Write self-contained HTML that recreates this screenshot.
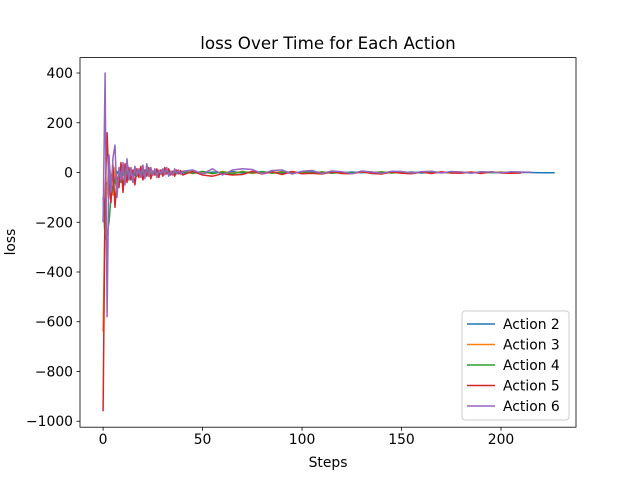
<!DOCTYPE html>
<html><head><meta charset="utf-8"><style>
body{margin:0;background:#fff;width:640px;height:480px;overflow:hidden}
text{font-family:"DejaVu Sans","Liberation Sans",sans-serif;fill:#000}
</style></head><body>
<svg id="chart" width="640" height="480" viewBox="0 0 640 480" xmlns="http://www.w3.org/2000/svg">
<rect x="0" y="0" width="640" height="480" fill="#fff"/>
<text x="328" y="49" text-anchor="middle" font-size="16.7">loss Over Time for Each Action</text>
<g id="plot"></g>
<g id="axes"></g>
<text x="328" y="467" text-anchor="middle" font-size="13.9">Steps</text>
<text x="0" y="0" transform="translate(15,242) rotate(-90)" text-anchor="middle" font-size="13.9">loss</text>
<g id="legend"></g>
</svg>
<script>
const seriesNames = ["Action 2","Action 3","Action 4","Action 5","Action 6"];
const seriesColors = ["#1f77b4","#ff7f0e","#2ca02c","#d62728","#9467bd"];
const xTicks = [0,50,100,150,200];
const yTicks = [-1000,-800,-600,-400,-200,0,200,400];
const stepsEarly = [0,1,2,3,4,5,6,7,8,9,10,11,12,13,14,15,16,17,18,19,20,21,22,23,24,25,26,27,28,29,30,31,32,33,34,35,36,37,38,39,40];
const stepsLate = [45,50,55,60,65,70,75,80,85,90,95,100,105,110,115,120,125,130,135,140,145,150,155,160,165,170,175,180,185,190,195,200,205,210];
const action2Early = [-170,-100,-40,-60,-20,10,-30,5,-15,10,-10,5,-20,10,-5,8,-12,5,-8,10,-5,3,-6,8,-4,5,-6,3,-4,6,-3,2,-5,4,-2,3,-4,2,-3,4,-2];
const action2Late = [3,-4,2,-3,4,-2,3,-3,2,-2,3,-2,2,-3,1,-2,2,-1,2,-2,1,-1,2,-2,1,-1,2,-1,1,-1,1,0,-1,0];
const action2Tail = [[215,0],[220,-1],[227,-1]];
const action3Early = [-640,-150,-80,40,-30,-90,20,-40,10,-20,30,-10,15,-25,10,-5,20,-15,5,-10,15,-5,10,-8,5,-12,8,-5,10,-6,4,-8,6,-4,3,-5,6,-3,4,-2,5];
const action3Late = [-4,3,-5,4,-3,5,-4,3,-2,4,-3,2,-4,3,-2,2,-3,2,-1,3,-2,2,-1,2,-2,1,-1,2,-1,1,-1,2,-1,0];
const action4Early = [-100,-270,-250,-200,-100,-60,-30,-70,-10,-40,10,-20,5,-30,15,-10,5,-15,10,-5,8,-12,6,-4,10,-8,3,-6,5,-3,8,-5,4,-2,6,-4,3,-6,2,-3,4];
const action4Late = [-3,5,-4,2,-5,3,-2,4,-3,2,-4,3,-2,2,-3,1,-2,3,-1,2,-2,1,-2,2,-1,1,-2,1,-1,2,-1,1,-1,0];
const action5Early = [-960,-100,160,-50,-120,30,-140,-20,-60,40,-80,35,-40,20,-30,10,-50,15,-20,25,-30,10,-15,20,-25,5,-10,15,-20,10,-15,20,-5,15,-10,5,-15,10,-5,8,-10];
const action5Late = [5,-10,-15,-5,-10,-8,5,-6,3,-8,4,-5,-3,-6,2,-4,-5,3,-4,-6,2,-3,-5,2,-4,3,-2,-3,2,-4,3,-2,-3,-2];
const action6Early = [-200,400,-580,70,-80,60,110,-100,20,-30,40,-50,55,-30,20,-40,25,-10,15,-20,30,-25,35,-15,20,-10,15,-20,10,-5,15,-10,20,-15,5,-10,15,-5,10,-8,5];
const action6Late = [10,-5,15,-10,10,15,12,-5,8,10,-6,5,8,-4,6,3,-5,6,2,-3,5,4,-2,3,5,-2,4,2,-3,3,2,-1,3,2];
const action6Tail = [[215,1]];

const L=80,R=576,T=57.6,B=427.2;
const xMin=-11.6,xMax=237.7,yMin=-1024,yMax=462;
const xs=v=>L+(v-xMin)/(xMax-xMin)*(R-L);
const ys=v=>B-(v-yMin)/(yMax-yMin)*(B-T);
const NS="http://www.w3.org/2000/svg";
function mk(tag,attrs,parent){const e=document.createElementNS(NS,tag);for(const k in attrs)e.setAttribute(k,attrs[k]);parent.appendChild(e);return e;}
function pts(early,late,tail){
  const p=[];stepsEarly.forEach((s,i)=>p.push([s,early[i]]));stepsLate.forEach((s,i)=>p.push([s,late[i]]));
  (tail||[]).forEach(t=>p.push(t));return p;}
const allSeries=[pts(action2Early,action2Late,action2Tail),pts(action3Early,action3Late),pts(action4Early,action4Late),pts(action5Early,action5Late),pts(action6Early,action6Late,action6Tail)];
const plot=document.getElementById('plot');
const clip=mk('clipPath',{id:'cp'},plot);mk('rect',{x:L,y:T,width:R-L,height:B-T},clip);
allSeries.forEach((p,i)=>{
  const d=p.map((q,j)=>(j?'L':'M')+xs(q[0]).toFixed(1)+','+ys(q[1]).toFixed(1)).join(' ');
  const path=mk('path',{d:d,fill:'none',stroke:seriesColors[i],'stroke-width':1.5,'stroke-linejoin':'round','clip-path':'url(#cp)'},plot);
  
  
});
const axes=document.getElementById('axes');
mk('rect',{x:L,y:T,width:R-L,height:B-T,fill:'none',stroke:'#000','stroke-width':0.8},axes);
xTicks.forEach(v=>{const x=xs(v);
  mk('line',{x1:x,y1:B,x2:x,y2:B+3.5,stroke:'#000','stroke-width':0.8},axes);
  const t=mk('text',{x:x,y:B+17,'text-anchor':'middle','font-size':13.9},axes);t.textContent=v;
  
  });
yTicks.forEach(v=>{const y=ys(v);
  mk('line',{x1:L-3.5,y1:y,x2:L,y2:y,stroke:'#000','stroke-width':0.8},axes);
  const t=mk('text',{x:L-7,y:y+5,'text-anchor':'end','font-size':13.9},axes);t.textContent=(v<0?'\u2212':'')+Math.abs(v);
  
  });
const lg=document.getElementById('legend');
mk('rect',{x:462,y:311,width:107,height:109,rx:3,fill:'#fff','fill-opacity':0.8,stroke:'#ccc','stroke-width':1},lg);
seriesNames.forEach((n,i)=>{const y=324+i*20.5;
  const g=mk('g',{},lg);
  
  
  mk('line',{x1:467,y1:y,x2:495,y2:y,stroke:seriesColors[i],'stroke-width':1.5},g);
  const t=mk('text',{x:503,y:y+5,'font-size':13.9},g);t.textContent=n;});
</script>
</body></html>
